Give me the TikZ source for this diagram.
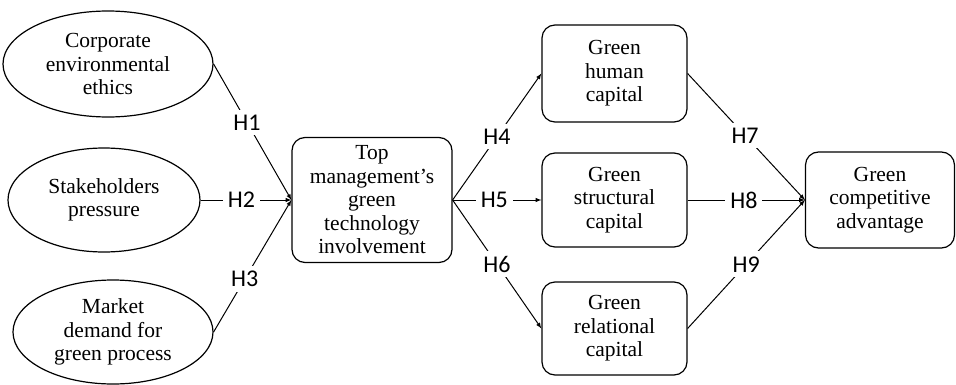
\documentclass[tikz,border=0pt]{standalone}
\usepackage{fontspec}
\setmainfont{Liberation Serif}
\newfontfamily\hfont{Carlito}
\usepackage{tikz}
\usetikzlibrary{arrows}
\usetikzlibrary{shapes}
\tikzset{construct/.style={ % Sets the properties for the ellipses
			ellipse,
			draw,
			line width=1.2pt,
			inner sep=0pt,
			align=center,
			font=\fontsize{21.5}{23.5}\selectfont},
		factor/.style={
			rectangle,
			rounded corners=13pt,
			draw,
			line width=1.2pt,
			inner sep=0pt,
			align=center,
			font=\fontsize{21.5}{23.5}\selectfont},
		hyp/.style={
			fill=white,
			inner sep=5pt,
			font=\hfont\fontsize{24}{26}\selectfont},
		path/.style={
			-latex,
			line width=1pt}}

\begin{document}
\begin{tikzpicture}[x=1pt,y=1pt]
			\useasboundingbox (0,0) rectangle (956,384);
			\node[construct, minimum width=210, minimum height=106] (CEE) at (108,320) {Corporate\\environmental\\ethics};
			\node[construct, minimum width=192, minimum height=104] (SP) at (104,184) {Stakeholders\\pressure};
			\node[construct, minimum width=200, minimum height=104] (MD) at (113,52) {Market\\demand for\\green process};
			\node[factor, minimum width=160, minimum height=125] (TM) at (372,184) {Top\\management's\\green\\technology\\involvement};
			\node[factor, minimum width=145, minimum height=97] (GHC) at (614.5,310.5) {Green\\human\\capital};
			\node[factor, minimum width=145, minimum height=94] (GSC) at (614.5,184) {Green\\structural\\capital};
			\node[factor, minimum width=145, minimum height=93] (GRC) at (614.5,55.5) {Green\\relational\\capital};
			\node[factor, minimum width=149, minimum height=96] (GCA) at (880,184) {Green\\competitive\\advantage};
			
			\draw[path] (CEE.east) -- node[hyp, pos=0.43] {H1} (TM.west);
			\draw[path] (SP.east) -- node[hyp, pos=0.45] {H2} (TM.west);
			\draw[path] (MD.east) -- node[hyp, pos=0.4] {H3} (TM.west);
			\draw[path] (TM.east) -- node[hyp, pos=0.5] {H4} (GHC.west);
			\draw[path] (TM.east) -- node[hyp, pos=0.47] {H5} (GSC.west);
			\draw[path] (TM.east) -- node[hyp, pos=0.5] {H6} (GRC.west);
			\draw[path] (GHC.east) -- node[hyp, pos=0.49] {H7} (GCA.west);
			\draw[path] (GSC.east) -- node[hyp, pos=0.48] {H8} (GCA.west);
			\draw[path] (GRC.east) -- node[hyp, pos=0.5] {H9} (GCA.west);
		\end{tikzpicture}
\end{document}
